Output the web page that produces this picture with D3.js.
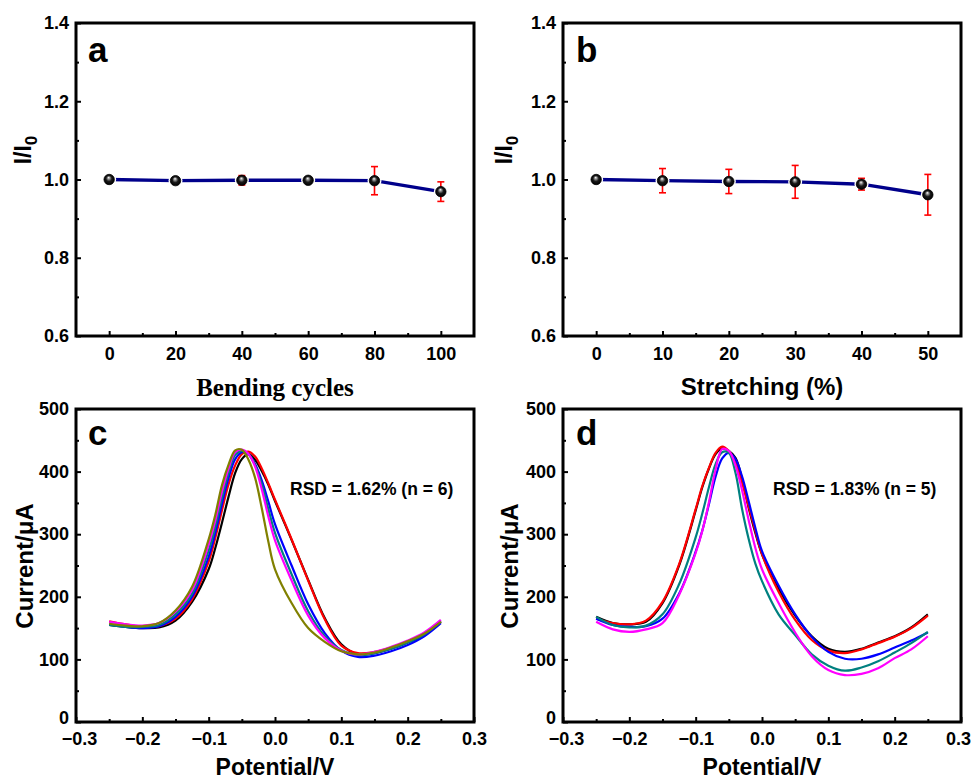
<!DOCTYPE html>
<html>
<head>
<meta charset="utf-8">
<script src="https://cdn.jsdelivr.net/npm/d3@7"></script>
<style>
  body { margin: 0; background: #fff; }
  svg { display: block; font-family: Arial, "Liberation Sans", sans-serif; font-weight: bold; }
  .tick text { font-size: 18px; font-weight: bold; fill: #000; }
  .tick line { stroke: #000; stroke-width: 2px; }
</style>
</head>
<body>
<div id="chart"></div>
<script>
// ---- data ----
var bendCycles   = [0, 20, 40, 60, 80, 100];
var bendRatio    = [1.000, 0.997, 0.998, 0.998, 0.997, 0.969];
var bendErr      = [0.004, 0.006, 0.012, 0.006, 0.036, 0.025];

var stretchPct   = [0, 10, 20, 30, 40, 50];
var stretchRatio = [1.000, 0.997, 0.995, 0.994, 0.988, 0.961];
var stretchErr   = [0.004, 0.031, 0.031, 0.042, 0.015, 0.052];

var potential = [-0.25, -0.225, -0.2, -0.175, -0.15, -0.125, -0.1, -0.09, -0.08, -0.07, -0.06, -0.05, -0.04,
                 -0.03, -0.02, -0.01, 0, 0.025, 0.05, 0.075, 0.1, 0.125, 0.15, 0.175, 0.2, 0.225, 0.25];

// panel c, six bending states
var cBlack   = [155,152,150,151,162,192,244,278,318,360,398,420,428,419,401,379,353,291,227,166,124,108,110,117,127,139,160];
var cRed     = [161,156,152,153,165,196,256,294,338,380,410,428,432,424,405,381,355,292,226,164,122,110,112,119,129,141,161];
var cBlue    = [156,152,150,153,168,200,264,302,348,390,420,431,428,412,386,352,316,250,188,142,114,104,106,113,123,137,158];
var cTeal    = [155,152,152,155,172,205,274,312,358,398,427,433,428,410,380,340,302,236,177,137,115,107,110,117,127,140,161];
var cMagenta = [160,156,154,158,176,211,284,322,368,405,431,435,428,408,372,328,290,226,170,134,114,108,112,120,130,143,163];
var cOlive   = [157,154,153,158,178,216,292,331,378,411,434,435,419,390,342,288,244,190,150,128,113,108,111,119,129,141,160];

// panel d, five stretching states
var dBlack   = [168,158,156,160,190,250,338,375,405,428,437,433,422,388,342,302,268,213,170,137,117,112,117,127,137,151,172];
var dRed     = [165,158,156,162,192,252,340,377,406,430,440,433,414,382,344,305,268,208,163,131,114,110,116,126,136,150,170];
var dBlue    = [165,155,152,153,165,205,272,306,348,392,421,430,420,392,352,310,273,218,172,136,112,101,101,108,119,130,143];
var dTeal    = [168,155,151,154,172,220,295,333,375,412,431,430,398,340,292,253,225,172,139,108, 90, 82, 87, 97,111,126,144];
var dMagenta = [160,148,144,148,158,203,270,305,351,403,436,433,410,370,322,278,244,190,143,105, 83, 75, 77, 86,102,116,137];

var cSeries = [
  { color: "#000000", values: cBlack },
  { color: "#ff0000", values: cRed },
  { color: "#0000ff", values: cBlue },
  { color: "#008080", values: cTeal },
  { color: "#ff00ff", values: cMagenta },
  { color: "#808000", values: cOlive }
];
var dSeries = [
  { color: "#000000", values: dBlack },
  { color: "#ff0000", values: dRed },
  { color: "#0000ff", values: dBlue },
  { color: "#008080", values: dTeal },
  { color: "#ff00ff", values: dMagenta }
];

var ratioTicks = [0.6, 0.8, 1.0, 1.2, 1.4];
var ratioMinor = [0.7, 0.9, 1.1, 1.3];
var currentTicks = [0, 100, 200, 300, 400, 500];
var currentMinor = [50, 150, 250, 350, 450];
var potTicks = [-0.3, -0.2, -0.1, 0.0, 0.1, 0.2, 0.3];
var potMinor = [-0.25, -0.15, -0.05, 0.05, 0.15, 0.25];

var svg = d3.select("#chart").append("svg")
    .attr("width", 972)
    .attr("height", 779);

svg.append("rect").attr("width", 972).attr("height", 779).attr("fill", "#fff");

// sphere marker gradient
var grad = svg.append("defs").append("radialGradient")
    .attr("id", "ball")
    .attr("cx", "50%").attr("cy", "50%").attr("r", "50%")
    .attr("fx", "45%").attr("fy", "30%");
grad.append("stop").attr("offset", "0%").attr("stop-color", "#ffffff");
grad.append("stop").attr("offset", "22%").attr("stop-color", "#9a9a9a");
grad.append("stop").attr("offset", "55%").attr("stop-color", "#1a1a1a");
grad.append("stop").attr("offset", "100%").attr("stop-color", "#000000");

function drawAxes(g, x, y, xt, xm, yt, ym, xfmt, yfmt, xpad) {
    var h = y.range()[0];
    var xAxis = d3.axisBottom(x).tickValues(xt).tickFormat(xfmt)
        .tickSizeInner(-5).tickSizeOuter(0).tickPadding(xpad);
    var xg = g.append("g").attr("class", "x-axis").attr("transform", "translate(0," + h + ")").call(xAxis)
        .call(function(s) { s.select(".domain").remove(); });
    g.append("g").attr("transform", "translate(0," + h + ")")
        .call(d3.axisBottom(x).tickValues(xm).tickFormat("").tickSizeInner(-3).tickSizeOuter(0))
        .call(function(s) { s.select(".domain").remove(); });

    var x0 = x.range()[0];
    var yAxis = d3.axisLeft(y).tickValues(yt).tickFormat(yfmt)
        .tickSizeInner(-5).tickSizeOuter(0).tickPadding(7);
    var yg = g.append("g").attr("class", "y-axis").attr("transform", "translate(" + x0 + ",0)").call(yAxis)
        .call(function(s) { s.select(".domain").remove(); });
    g.append("g").attr("transform", "translate(" + x0 + ",0)")
        .call(d3.axisLeft(y).tickValues(ym).tickFormat("").tickSizeInner(-3).tickSizeOuter(0))
        .call(function(s) { s.select(".domain").remove(); });

    // frame
    g.append("rect")
        .attr("x", x.range()[0]).attr("y", y.range()[1])
        .attr("width", x.range()[1] - x.range()[0])
        .attr("height", y.range()[0] - y.range()[1])
        .attr("fill", "none").attr("stroke", "#000").attr("stroke-width", 3);
    return { x: xg, y: yg };
}

function ratioLabel(g, cx, cy) {
    var t = g.append("text")
        .attr("transform", "translate(" + cx + "," + cy + ") rotate(-90)")
        .attr("text-anchor", "middle")
        .attr("font-size", 23);
    t.append("tspan").text("I/I");
    t.append("tspan").attr("dy", 6).attr("font-size", 17).text("0");
}

function stabilityPanel(x, y, xs, ys, es, xt, xm, letter, lx, ylx) {
    var g = svg.append("g");
    drawAxes(g, x, y, xt, xm, ratioTicks, ratioMinor, d3.format("d"), d3.format(".1f"), 11);

    var pts = xs.map(function(d, i) { return { x: d, y: ys[i], e: es[i] }; });

    g.append("path").datum(pts)
        .attr("fill", "none").attr("stroke", "#00008b").attr("stroke-width", 3.4)
        .attr("d", d3.line().x(function(d) { return x(d.x); }).y(function(d) { return y(d.y); }));

    // small gap around the symbols
    g.selectAll(".halo").data(pts).enter().append("circle")
        .attr("cx", function(d) { return x(d.x); }).attr("cy", function(d) { return y(d.y); })
        .attr("r", 7).attr("fill", "#fff");

    var eb = g.selectAll(".err").data(pts).enter().append("g")
        .attr("stroke", "#ff0000").attr("stroke-width", 1.6);
    eb.append("line")
        .attr("x1", function(d) { return x(d.x); }).attr("x2", function(d) { return x(d.x); })
        .attr("y1", function(d) { return y(d.y - d.e); }).attr("y2", function(d) { return y(d.y + d.e); });
    eb.append("line")
        .attr("x1", function(d) { return x(d.x) - 3.5; }).attr("x2", function(d) { return x(d.x) + 3.5; })
        .attr("y1", function(d) { return y(d.y + d.e); }).attr("y2", function(d) { return y(d.y + d.e); });
    eb.append("line")
        .attr("x1", function(d) { return x(d.x) - 3.5; }).attr("x2", function(d) { return x(d.x) + 3.5; })
        .attr("y1", function(d) { return y(d.y - d.e); }).attr("y2", function(d) { return y(d.y - d.e); });

    g.selectAll(".ball").data(pts).enter().append("circle")
        .attr("cx", function(d) { return x(d.x); }).attr("cy", function(d) { return y(d.y); })
        .attr("r", 5.2).attr("fill", "url(#ball)").attr("stroke", "#000").attr("stroke-width", 0.8);

    g.append("text").attr("x", lx).attr("y", 62).attr("font-size", 35).text(letter);
    ratioLabel(g, ylx, 150);
    return g;
}

function dpvPanel(x, y, series, letter, lx, rsd, rx, ylx) {
    var g = svg.append("g");
    var ax = drawAxes(g, x, y, potTicks, potMinor, currentTicks, currentMinor, d3.format(".1f"), d3.format("d"), 10);

    var line = d3.line()
        .curve(d3.curveCatmullRom.alpha(0.5))
        .x(function(d, i) { return x(potential[i]); })
        .y(function(d) { return y(d); });

    g.selectAll(".curve").data(series).enter().append("path")
        .attr("fill", "none")
        .attr("stroke", function(d) { return d.color; })
        .attr("stroke-width", 2.2)
        .attr("d", function(d) { return line(d.values); });

    g.append("text").attr("x", lx).attr("y", 445).attr("font-size", 35).text(letter);
    g.append("text").attr("x", rx).attr("y", 495).attr("font-size", 17.5).text(rsd);

    g.append("text")
        .attr("transform", "translate(" + ylx + ",566) rotate(-90)")
        .attr("text-anchor", "middle").attr("font-size", 24)
        .text("Current/\u03bcA");
    g.append("text")
        .attr("x", (x.range()[0] + x.range()[1]) / 2).attr("y", 775)
        .attr("text-anchor", "middle").attr("font-size", 23)
        .text("Potential/V");

    // the "0" label sits right above the first x label, lift it a touch
    ax.y.selectAll(".tick text").filter(function(d) { return d === 0; }).attr("dy", "0.1em");
    ax.x.selectAll(".tick text").filter(function(d) { return d === -0.3; }).attr("dx", 3);
    return ax;
}

// ---- panel a ----
var xa = d3.scaleLinear().domain([-10, 110]).range([76, 474]);
var ya = d3.scaleLinear().domain([0.6, 1.4]).range([336, 23]);
stabilityPanel(xa, ya, bendCycles, bendRatio, bendErr, [0, 20, 40, 60, 80, 100], [10, 30, 50, 70, 90], "a", 88, 31);
svg.append("text")
    .attr("x", 275).attr("y", 396)
    .attr("text-anchor", "middle")
    .attr("font-family", "'Times New Roman', 'Liberation Serif', serif")
    .attr("font-size", 25)
    .text("Bending cycles");

// ---- panel b ----
var xb = d3.scaleLinear().domain([-5, 55]).range([563, 961]);
var yb = d3.scaleLinear().domain([0.6, 1.4]).range([336, 23]);
stabilityPanel(xb, yb, stretchPct, stretchRatio, stretchErr, [0, 10, 20, 30, 40, 50], [5, 15, 25, 35, 45], "b", 576, 512);
svg.append("text")
    .attr("x", 762).attr("y", 395)
    .attr("text-anchor", "middle")
    .attr("font-size", 24)
    .text("Stretching (%)");

// ---- panel c ----
var xc = d3.scaleLinear().domain([-0.3, 0.3]).range([76, 474]);
var yc = d3.scaleLinear().domain([0, 500]).range([722, 409]);
dpvPanel(xc, yc, cSeries, "c", 88, "RSD = 1.62% (n = 6)", 290, 33);

// ---- panel d ----
var xd = d3.scaleLinear().domain([-0.3, 0.3]).range([563, 961]);
var yd = d3.scaleLinear().domain([0, 500]).range([722, 409]);
var dAx = dpvPanel(xd, yd, dSeries, "d", 576, "RSD = 1.83% (n = 5)", 773, 518);
dAx.x.selectAll(".tick text").filter(function(d) { return d === 0.3; }).attr("dx", -3);
</script>
</body>
</html>
